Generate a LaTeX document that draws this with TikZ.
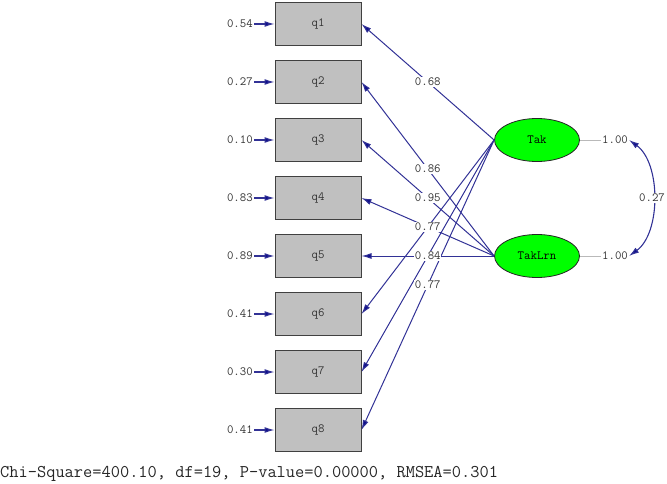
\documentclass[tikz,border=0pt]{standalone}
\usepackage{fontspec}
\usetikzlibrary{arrows.meta,shapes.geometric}
\definecolor{pathc}{RGB}{50,50,150}
\definecolor{tipc}{RGB}{15,15,140}
\definecolor{boxfill}{RGB}{192,192,192}
\definecolor{boxdraw}{RGB}{64,64,64}
\definecolor{latfill}{RGB}{0,255,0}
\definecolor{varline}{RGB}{185,185,185}
\begin{document}
\begin{tikzpicture}[x=1pt,y=-1pt,
  font=\ttfamily\fontsize{12.5}{14}\selectfont,
  obs/.style={draw=boxdraw, fill=boxfill, minimum width=86pt, minimum height=43pt, inner sep=0pt, line width=1pt},
  lat/.style={ellipse, draw=black!85, fill=latfill, minimum width=85pt, minimum height=43pt, inner sep=0pt, line width=0.8pt},
  loadarrow/.style={draw=pathc, line width=1pt, -{Latex[length=10pt,width=6pt,fill=tipc]}},
  errarrow/.style={draw=pathc, line width=1.1pt, -{Latex[length=10pt,width=6pt,fill=tipc]}},
  errlbl/.style={anchor=east, inner sep=1pt, text=black!80},
  lbl/.style={fill=white, inner sep=0.6pt, text=black!80}]
\useasboundingbox (0,0) rectangle (667,484);

% observed variables
\foreach \i/\e in {1/0.54,2/0.27,3/0.10,4/0.83,5/0.89,6/0.41,7/0.30,8/0.41}{
  \node[obs, text=black!80] (q\i) at (318,{24+58*(\i-1)}) {q\i};
  \node[errlbl] (e\i) at (254,{24+58*(\i-1)}) {\e};
  \draw[errarrow] (e\i.east) -- (q\i.west);
}

% latent variables
\node[lat] (Tak) at (537,140) {Tak};
\node[lat] (TakLrn) at (537,256) {TakLrn};

% loadings
\draw[loadarrow] (Tak.west) -- (q1.east);
\draw[loadarrow] (Tak.west) -- (q6.east);
\draw[loadarrow] (Tak.west) -- (q7.east);
\draw[loadarrow] (Tak.west) -- (q8.east);
\draw[loadarrow] (TakLrn.west) -- (q2.east);
\draw[loadarrow] (TakLrn.west) -- (q3.east);
\draw[loadarrow] (TakLrn.west) -- (q4.east);
\draw[loadarrow] (TakLrn.west) -- (q5.east);

\path (Tak.west) -- (q1.east) node[midway,lbl] (l1) {0.68};
\path (TakLrn.west) -- (q2.east) node[midway,lbl] (l2) {0.86};
\path (TakLrn.west) -- (q3.east) node[midway,lbl] (l3) {0.95};
\path (TakLrn.west) -- (q4.east) node[midway,lbl] (l4) {0.77};
\path (TakLrn.west) -- (q5.east) node[midway,lbl] (l5) {0.84};
\path (Tak.west) -- (q8.east) node[midway,lbl] (l8) {0.77};

% latent variances and covariance
\node[inner sep=1pt, text=black!80] (v1) at (615,140) {1.00};
\node[inner sep=1pt, text=black!80] (v2) at (615,256) {1.00};
\draw[varline, line width=0.8pt] (Tak.east) -- (v1.west);
\draw[varline, line width=0.8pt] (TakLrn.east) -- (v2.west);
\draw[draw=pathc, line width=1.1pt, {Latex[length=10pt,width=6pt,fill=tipc]}-{Latex[length=10pt,width=6pt,fill=tipc]}]
  (v1.east) .. controls (661,163) and (661,233) .. (v2.east);
\node[lbl] (cov) at (652,198) {0.27};

% fit statistics
\node[anchor=base west, inner sep=0pt, font=\ttfamily\fontsize{17.9}{20}\selectfont, text=black!85] (fit) at (0,477)
  {Chi-Square=400.10, df=19, P-value=0.00000, RMSEA=0.301};
\end{tikzpicture}
\end{document}
